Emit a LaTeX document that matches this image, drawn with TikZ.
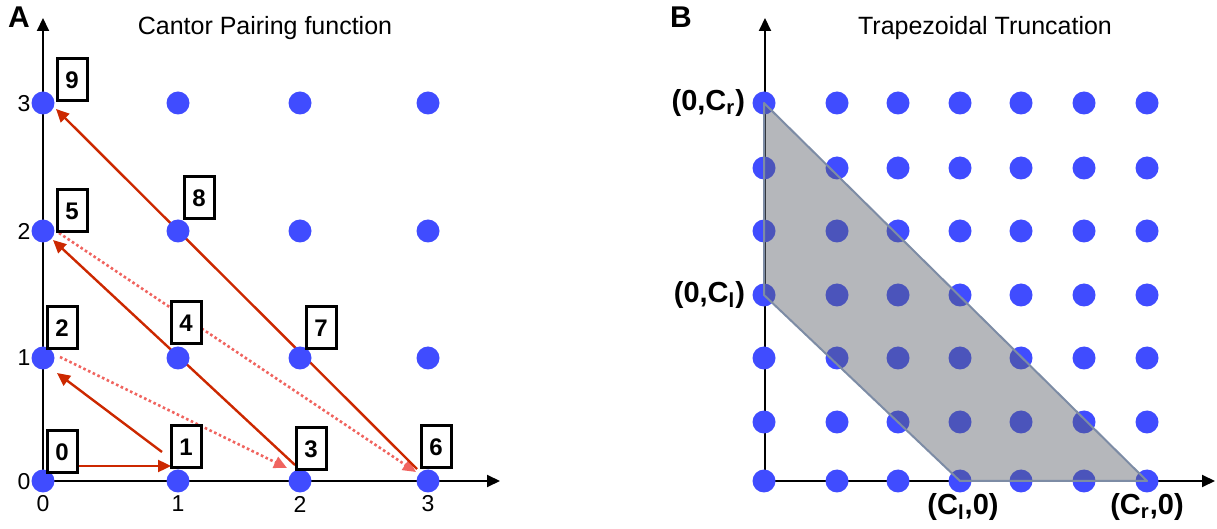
\documentclass[tikz,border=0pt]{standalone}
\usepackage{fontspec}
\setmainfont{Liberation Sans}
\usetikzlibrary{arrows.meta,backgrounds}

\definecolor{dotblue}{RGB}{64,76,255}
\definecolor{pathred}{RGB}{204,40,0}
\definecolor{pathpink}{RGB}{240,100,95}
\definecolor{trapfill}{RGB}{90,95,105}
\definecolor{trapedge}{RGB}{125,140,165}

\begin{document}
\begin{tikzpicture}[x=0.5pt,y=-0.5pt,
  axis/.style={line width=1pt,-{Triangle[length=6.5pt,width=6pt]}},
  dot/.style={circle,fill=dotblue,inner sep=0pt,minimum size=11.5pt},
  numbox/.style={draw,line width=1.5pt,fill=white,inner sep=0pt,minimum width=15pt,minimum height=21pt,font=\fontsize{12}{14}\selectfont\bfseries},
  tick/.style={font=\fontsize{11.5}{13}\selectfont},
  title/.style={font=\fontsize{12.5}{15}\selectfont},
  panel/.style={font=\fontsize{15}{17}\selectfont\bfseries},
  corner/.style={font=\fontsize{14.5}{17}\selectfont\bfseries},
  walk/.style={pathred,line width=1.2pt,-{Triangle[length=6.5pt,width=6pt]}},
  skip/.style={pathpink,line width=1.3pt,dash pattern=on 1.3pt off 1.3pt,-{Triangle[length=6.5pt,width=6pt]}},
  trap/.style={fill=trapfill,fill opacity=0.45,draw=trapedge,line width=1pt,line join=round}]
 \useasboundingbox (0,0) rectangle (1217,529);

 % A: Cantor pairing
 \coordinate (oA) at (43,481);
 \foreach \x [count=\i from 0] in {43,178,300,428}
  \foreach \y [count=\j from 0] in {481,358,231,103}
   \node[dot] (a\i\j) at (\x,\y) {};

 \begin{scope}[on background layer]
 \draw[axis] (oA) -- ++(0,-463);
 \draw[axis] (oA) -- ++(457,0);
 \draw[walk] ([shift={(35,-15)}]a00.center) -- ([shift={(-7,-15)}]a10.center);
 \draw[walk] ([shift={(-16,-29)}]a10.center) -- ([shift={(14,15)}]a01.center);
 \draw[skip] ([shift={(17,-1)}]a01.center) -- ([shift={(-13,-13)}]a20.center);
 \draw[walk] ([shift={(-5,-16)}]a20.center) -- ([shift={(10,9)}]a02.center);
 \draw[skip] ([shift={(16,2)}]a02.center) -- ([shift={(-12,-9)}]a30.center);
 \draw[walk] ([shift={(-11,-12)}]a30.center) -- ([shift={(13,6)}]a03.center);
 \end{scope}

 \node[numbox] (n0) at (62,452) {0};
 \node[numbox] (n1) at (186,447) {1};
 \node[numbox] (n2) at (62,328) {2};
 \node[numbox] (n3) at (311,449) {3};
 \node[numbox] (n4) at (186,323) {4};
 \node[numbox] (n5) at (72,211) {5};
 \node[numbox] (n6) at (436,447) {6};
 \node[numbox] (n7) at (321,328) {7};
 \node[numbox] (n8) at (199,198) {8};
 \node[numbox] (n9) at (72,80) {9};

 \foreach \y [count=\j from 0] in {482,358,231,104}
  \node[tick] (ty\j) at (24,\y) {\j};
 \foreach \x [count=\i from 0] in {43,178,300,428}
  \node[tick] (tx\i) at (\x,504) {\i};

 \node[panel] (labA) at (19,17) {A};
 \node[title] (titA) at (265,28) {Cantor Pairing function};

 % B: trapezoidal truncation
 \coordinate (oB) at (765,481);
 \foreach \x [count=\i from 0] in {764,837,898,960,1021,1084,1147}
  \foreach \y [count=\j from 0] in {481,422,358,295,231,168,103}
   \node[dot] (b\i\j) at (\x,\y) {};

 \begin{scope}[on background layer]
 \draw[axis] (oB) -- ++(0,-463);
 \draw[axis] (oB) -- ++(450,0);
 \end{scope}

 \draw[trap] (b06.center) -- (b60.center) -- (b30.center) -- (b03.center) -- cycle;

 \node[corner,anchor=east] (cr0) at (752,103) {(0,C\textsubscript{r})};
 \node[corner,anchor=east] (cl0) at (752,295) {(0,C\textsubscript{l})};
 \node[corner] (cl1) at (963,507) {(C\textsubscript{l},0)};
 \node[corner] (cr1) at (1147,507) {(C\textsubscript{r},0)};

 \node[panel] (labB) at (681,17) {B};
 \node[title] (titB) at (985,28) {Trapezoidal Truncation};
\end{tikzpicture}
\end{document}
